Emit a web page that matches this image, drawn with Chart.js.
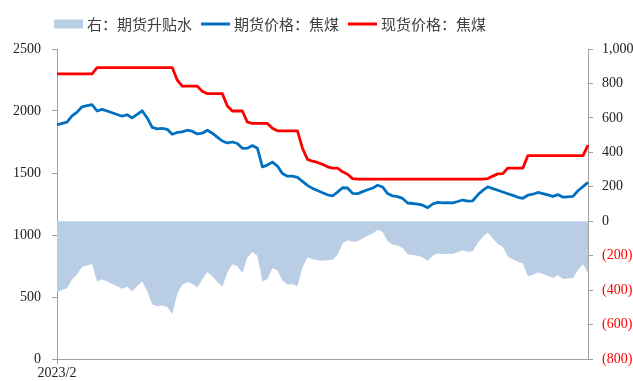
<!DOCTYPE html>
<html>
<head>
<meta charset="utf-8">
<script src="https://cdn.jsdelivr.net/npm/chart.js@4/dist/chart.umd.min.js"></script>
<style>
    body { margin: 0; background: #fff; }
    #contenedor { width: 633px; height: 381px; }
</style>
</head>
<body>
<div id="contenedor"><canvas id="grafico"></canvas></div>
<script>
// ---------------------------------------------- DATOS -------------------------------------

const etiquetasX = ['2023/2'];
const ticksIzq = [0, 500, 1000, 1500, 2000, 2500];
const ticksDer = [-800, -600, -400, -200, 0, 200, 400, 600, 800, 1000];
const nombres = ['右：期货升贴水', '期货价格：焦煤', '现货价格：焦煤'];

// precio futuros (eje izq)
const futuros = [
    1888, 1900, 1911, 1961, 1991, 2034, 2043, 2052, 2000, 2013,
    2000, 1986, 1972, 1958, 1970, 1944, 1972, 2002, 1944, 1868,
    1856, 1860, 1852, 1812, 1827, 1832, 1845, 1837, 1815, 1821,
    1845, 1821, 1789, 1758, 1742, 1750, 1738, 1699, 1700, 1721,
    1700, 1549, 1564, 1588, 1556, 1496, 1474, 1474, 1464, 1432,
    1400, 1376, 1359, 1341, 1324, 1316, 1346, 1381, 1379, 1336,
    1333, 1350, 1365, 1378, 1401, 1387, 1334, 1315, 1309, 1295,
    1258, 1254, 1249, 1240, 1220, 1250, 1263, 1259, 1261, 1259,
    1270, 1282, 1273, 1276, 1324, 1360, 1389, 1374, 1361, 1347,
    1333, 1319, 1304, 1296, 1321, 1329, 1343, 1334, 1323, 1311,
    1326, 1305, 1308, 1311, 1357, 1390, 1424
];

// precio contado (eje izq)
const contado = [
    2300, 2300, 2300, 2300, 2300, 2300, 2300, 2300, 2350, 2350,
    2350, 2350, 2350, 2350, 2350, 2350, 2350, 2350, 2350, 2350,
    2350, 2350, 2350, 2350, 2250, 2200, 2200, 2200, 2200, 2160,
    2140, 2140, 2140, 2140, 2040, 2000, 2000, 2000, 1910, 1900,
    1900, 1900, 1900, 1860, 1840, 1840, 1840, 1840, 1840, 1700,
    1610, 1595, 1585, 1570, 1550, 1540, 1540, 1510, 1490, 1455,
    1450, 1450, 1450, 1450, 1450, 1450, 1450, 1450, 1450, 1450,
    1450, 1450, 1450, 1450, 1450, 1450, 1450, 1450, 1450, 1450,
    1450, 1450, 1450, 1450, 1450, 1450, 1455, 1475, 1493, 1495,
    1540, 1540, 1540, 1540, 1640, 1640, 1640, 1640, 1640, 1640,
    1640, 1640, 1640, 1640, 1640, 1640, 1725
];

//升贴水 (eje der)
const basis = [
    -412, -400, -389, -339, -309, -266, -257, -248, -350, -337,
    -350, -364, -378, -392, -380, -406, -378, -348, -406, -482,
    -494, -490, -498, -538, -423, -368, -355, -363, -385, -339,
    -295, -319, -351, -382, -298, -250, -262, -301, -210, -179,
    -200, -351, -336, -272, -284, -344, -366, -366, -376, -268,
    -210, -219, -226, -229, -226, -224, -194, -129, -111, -119,
    -117, -100, -85, -72, -49, -63, -116, -135, -141, -155,
    -192, -196, -201, -210, -230, -200, -187, -191, -189, -191,
    -180, -168, -177, -174, -126, -90, -66, -101, -132, -148,
    -207, -221, -236, -244, -319, -311, -297, -306, -317, -329,
    -314, -335, -332, -329, -283, -250, -301
];

var categorias = [];
for (let i = 0; i < futuros.length; i++) {
    categorias.push(i);
}

// ---------------------------------------------- LEYENDA -------------------------------------
const leyendaManual = {
    id: 'leyendaManual',
    afterDraw(chart) {
        let ctx = chart.ctx;
        ctx.save();
        ctx.font = '15px "Noto Sans CJK SC"';
        ctx.textBaseline = 'middle';
        let x = 54;
        let y = 24;
        chart.data.datasets.forEach(ds => {
            if (ds.fill) {
                ctx.fillStyle = ds.backgroundColor;
                ctx.fillRect(x, y - 4.5, 29, 9);
            } else {
                ctx.strokeStyle = ds.borderColor;
                ctx.lineWidth = 3;
                ctx.beginPath();
                ctx.moveTo(x, y);
                ctx.lineTo(x + 29, y);
                ctx.stroke();
            }
            x += 33;
            ctx.fillStyle = '#404040';
            ctx.fillText(ds.label, x, y);
            x += ctx.measureText(ds.label).width + 9;
        });
        ctx.restore();
    }
};

// ---------------------------------------------- GRAFICA -------------------------------------
const fuenteEjes = { family: '"Liberation Serif", "Times New Roman", serif', size: 14, lineHeight: 1.1 };
const gris = '#a0a0a0';

const config = {
    type: 'line',
    data: {
        labels: categorias,
        datasets: [{
            label: nombres[0],
            data: basis,
            yAxisID: 'y1',
            fill: 'origin',
            backgroundColor: '#b9cde5',
            borderWidth: 0,
            pointRadius: 0,
            order: 3
        }, {
            label: nombres[1],
            data: futuros,
            yAxisID: 'y',
            fill: false,
            borderColor: '#0070c0',
            borderWidth: 2.8,
            pointRadius: 0,
            order: 2
        }, {
            label: nombres[2],
            data: contado,
            yAxisID: 'y',
            fill: false,
            borderColor: '#ff0000',
            borderWidth: 2.8,
            pointRadius: 0,
            order: 1
        }]
    },
    options: {
        animation: false,
        responsive: true,
        maintainAspectRatio: false,
        layout: { padding: { left: 0, right: 0, top: 49, bottom: 0 } },
        elements: { line: { tension: 0, borderJoinStyle: 'round' } },
        plugins: {
            legend: { display: false },
            tooltip: { enabled: false }
        },
        scales: {
            x: {
                afterBuildTicks: (scale) => {
                    scale.ticks = scale.ticks.filter(t => t.value === 0);
                },
                afterFit: (scale) => { scale.height = 22; },
                ticks: {
                    autoSkip: false,
                    maxRotation: 0,
                    padding: 2,
                    color: '#222',
                    font: fuenteEjes,
                    callback: (v, i) => etiquetasX[i]
                },
                grid: { display: true, drawOnChartArea: false, tickLength: 5, color: gris },
                border: { display: true, color: gris, width: 1 }
            },
            y: {
                position: 'left',
                min: ticksIzq[0],
                max: ticksIzq[ticksIzq.length - 1],
                afterBuildTicks: (scale) => {
                    scale.ticks = ticksIzq.map(v => ({ value: v }));
                },
                afterFit: (scale) => { scale.width = 57; },
                ticks: {
                    padding: 11,
                    color: '#222',
                    font: fuenteEjes,
                    callback: (v) => String(v)
                },
                grid: { display: true, drawOnChartArea: false, tickLength: 5, color: gris },
                border: { display: true, color: gris, width: 1 }
            },
            y1: {
                position: 'right',
                min: ticksDer[0],
                max: ticksDer[ticksDer.length - 1],
                afterBuildTicks: (scale) => {
                    scale.ticks = ticksDer.map(v => ({ value: v }));
                },
                afterFit: (scale) => { scale.width = 45; },
                ticks: {
                    padding: 9,
                    font: fuenteEjes,
                    color: (c) => c.tick.value < 0 ? '#ff0000' : '#222',
                    callback: (v) => v < 0 ? '(' + Math.abs(v) + ')' : v.toLocaleString('en-US')
                },
                grid: { display: true, drawOnChartArea: false, tickLength: 5, color: gris },
                border: { display: true, color: gris, width: 1 }
            }
        }
    },
    plugins: [leyendaManual]
};

const grafico = new Chart(document.getElementById('grafico'), config);
</script>
</body>
</html>
